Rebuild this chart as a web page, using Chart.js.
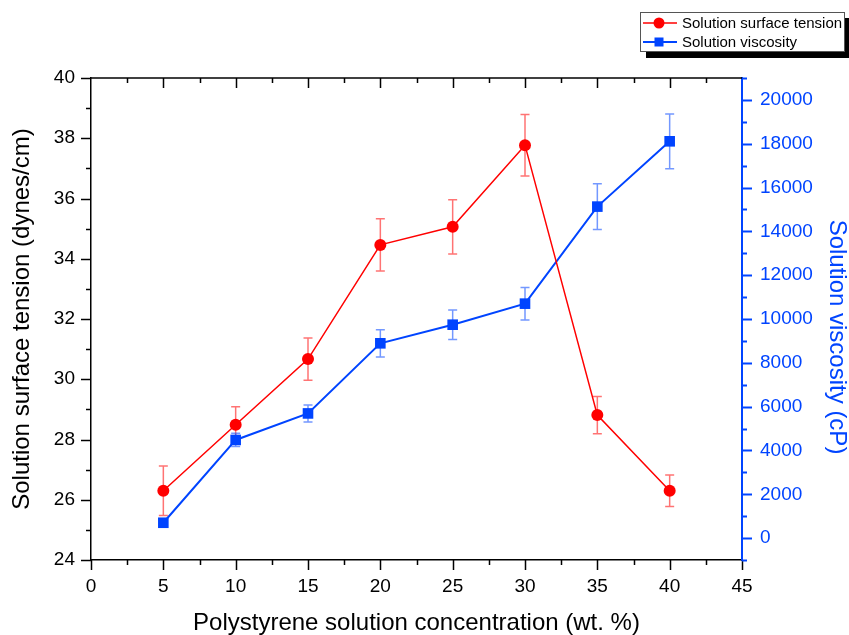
<!DOCTYPE html>
<html><head><meta charset="utf-8">
<script src="https://cdn.jsdelivr.net/npm/chart.js@4"></script>
<style>html,body{margin:0;padding:0;background:#fff;overflow:hidden}</style>
</head><body>
<canvas id="c" width="849" height="635" style="display:block;width:849px;height:635px"></canvas>
<script>
// ---- data ----
const concentration = [5, 10, 15, 20, 25, 30, 35, 40];
const surfaceTension = [26.30, 28.49, 30.67, 34.46, 35.06, 37.77, 28.81, 26.30];
const surfaceTensionErr = [0.82, 0.60, 0.70, 0.87, 0.90, 1.02, 0.62, 0.52];
const viscosity = [700, 4480, 5690, 8890, 9740, 10700, 15130, 18110];
const viscosityErr = [100, 300, 390, 620, 670, 740, 1040, 1250];
const xTicks = [0, 5, 10, 15, 20, 25, 30, 35, 40, 45];
const leftTicks = [24, 26, 28, 30, 32, 34, 36, 38, 40];
const rightTicks = [0, 2000, 4000, 6000, 8000, 10000, 12000, 14000, 16000, 18000, 20000];
const seriesNames = ['Solution surface tension', 'Solution viscosity'];
const xTitle = 'Polystyrene solution concentration (wt. %)';
const leftTitle = 'Solution surface tension (dynes/cm)';
const rightTitle = 'Solution viscosity (cP)';

const RED = '#ff0000';
const BLUE = '#0044ff';
const FONT = "'Liberation Sans', Arial, sans-serif";
Chart.defaults.font.family = FONT;

const errorBars = {
  id: 'errorBars',
  beforeDatasetsDraw(chart) {
    const ctx = chart.ctx;
    const xs = chart.scales.x;
    const sets = [
      {vals: surfaceTension, errs: surfaceTensionErr, scale: chart.scales.y, color: 'rgba(255,0,0,0.55)'},
      {vals: viscosity, errs: viscosityErr, scale: chart.scales.y1, color: 'rgba(0,68,255,0.55)'}
    ];
    ctx.save();
    ctx.lineWidth = 1.5;
    sets.forEach(s => {
      ctx.strokeStyle = s.color;
      concentration.forEach((c, i) => {
        const px = xs.getPixelForValue(c);
        const t = s.scale.getPixelForValue(s.vals[i] + s.errs[i]);
        const b = s.scale.getPixelForValue(s.vals[i] - s.errs[i]);
        ctx.beginPath();
        ctx.moveTo(px, t); ctx.lineTo(px, b);
        ctx.moveTo(px - 4.5, t); ctx.lineTo(px + 4.5, t);
        ctx.moveTo(px - 4.5, b); ctx.lineTo(px + 4.5, b);
        ctx.stroke();
      });
    });
    ctx.restore();
  }
};

const frame = {
  id: 'frame',
  afterDraw(chart) {
    const ctx = chart.ctx;
    const a = chart.chartArea;
    const xs = chart.scales.x, yl = chart.scales.y, yr = chart.scales.y1;
    ctx.save();
    // top axis line
    ctx.strokeStyle = '#000';
    ctx.lineWidth = 1.5;
    ctx.beginPath();
    ctx.moveTo(a.left, a.top); ctx.lineTo(a.right, a.top);
    ctx.stroke();
    // x ticks: bottom (out) and top (in)
    for (let v = 0; v <= 45.001; v += 2.5) {
      const px = Math.round(xs.getPixelForValue(v)) + 0.5;
      const major = Math.abs(v % 5) < 1e-6;
      const L = major ? 10 : 5;
      ctx.beginPath();
      ctx.moveTo(px, a.bottom); ctx.lineTo(px, a.bottom + L);
      if (v > 0 && v < 45) { ctx.moveTo(px, a.top); ctx.lineTo(px, a.top + L); }
      ctx.stroke();
    }
    // left ticks
    for (let v = 24; v <= 40.001; v += 1) {
      const py = Math.round(yl.getPixelForValue(v)) + 0.5;
      const L = (v % 2 === 0) ? 10 : 5;
      ctx.beginPath();
      ctx.moveTo(a.left, py); ctx.lineTo(a.left - L, py);
      ctx.stroke();
    }
    // right ticks
    ctx.strokeStyle = BLUE;
    ctx.lineWidth = 2;
    for (let v = -1000; v <= 21000; v += 1000) {
      const py = Math.round(yr.getPixelForValue(v)) + 0.5;
      const L = (v % 2000 === 0) ? 10 : 5;
      ctx.beginPath();
      ctx.moveTo(a.right, py); ctx.lineTo(a.right + L, py);
      ctx.stroke();
    }
    // right title
    ctx.fillStyle = BLUE;
    ctx.font = '24px ' + FONT;
    ctx.textAlign = 'center';
    ctx.textBaseline = 'middle';
    ctx.translate(837, 337);
    ctx.rotate(Math.PI / 2);
    ctx.fillText(rightTitle, 0, 0);
    ctx.restore();

    // legend
    ctx.save();
    ctx.fillStyle = '#000';
    ctx.fillRect(646, 18, 204, 40);
    ctx.fillStyle = '#fff';
    ctx.fillRect(640, 12, 205, 40);
    ctx.strokeStyle = '#555';
    ctx.lineWidth = 1;
    ctx.strokeRect(640.5, 12.5, 204, 39);
    const rows = [
      {y: 23, color: RED, shape: 'circle', lw: 1.5},
      {y: 42, color: BLUE, shape: 'square', lw: 2}
    ];
    ctx.font = '15px ' + FONT;
    ctx.textBaseline = 'middle';
    ctx.textAlign = 'left';
    rows.forEach((r, i) => {
      ctx.strokeStyle = r.color; ctx.lineWidth = r.lw;
      ctx.beginPath(); ctx.moveTo(643, r.y); ctx.lineTo(677, r.y); ctx.stroke();
      ctx.fillStyle = r.color;
      if (r.shape === 'circle') { ctx.beginPath(); ctx.arc(659, r.y, 5.5, 0, Math.PI * 2); ctx.fill(); }
      else { ctx.fillRect(654.5, r.y - 4.5, 9, 9); }
      ctx.fillStyle = '#000';
      ctx.fillText(seriesNames[i], 682, r.y + 1);
    });
    ctx.restore();
  }
};

new Chart(document.getElementById('c'), {
  type: 'line',
  data: {
    datasets: [
      {
        label: seriesNames[0],
        data: concentration.map((c, i) => ({x: c, y: surfaceTension[i]})),
        yAxisID: 'y',
        borderColor: RED, backgroundColor: RED,
        borderWidth: 1.5, pointRadius: 6, pointHoverRadius: 6,
        pointStyle: 'circle', pointBorderWidth: 0, tension: 0
      },
      {
        label: seriesNames[1],
        data: concentration.map((c, i) => ({x: c, y: viscosity[i]})),
        yAxisID: 'y1',
        borderColor: BLUE, backgroundColor: BLUE,
        borderWidth: 2, pointRadius: 7.5, pointHoverRadius: 7.5,
        pointStyle: 'rect', pointBorderWidth: 0, tension: 0
      }
    ]
  },
  options: {
    responsive: false,
    animation: false,
    layout: {padding: {top: 78, left: 0, right: 0, bottom: 0}},
    plugins: {legend: {display: false}, tooltip: {enabled: false}},
    scales: {
      x: {
        type: 'linear', position: 'bottom', min: 0, max: 45,
        afterBuildTicks: s => { s.ticks = xTicks.map(v => ({value: v})); },
        afterFit: s => { s.height = 75; },
        grid: {display: false},
        border: {display: true, color: '#000', width: 1.5},
        ticks: {color: '#000', font: {size: 19}, padding: 7, maxRotation: 0, autoSkip: false},
        title: {display: true, text: xTitle, color: '#000', font: {size: 24, lineHeight: 1}, padding: {top: 0, bottom: 0}}
      },
      y: {
        type: 'linear', position: 'left', min: 24, max: 40,
        afterBuildTicks: s => { s.ticks = leftTicks.map(v => ({value: v})); },
        afterFit: s => { s.width = 91; },
        grid: {display: false},
        border: {display: true, color: '#000', width: 1.5},
        ticks: {color: '#000', font: {size: 19}, padding: 8, autoSkip: false},
        title: {display: true, text: leftTitle, color: '#000', font: {size: 24, lineHeight: 1}, padding: {top: 10, bottom: 0}}
      },
      y1: {
        type: 'linear', position: 'right', min: -1000, max: 21000,
        afterBuildTicks: s => { s.ticks = rightTicks.map(v => ({value: v})); },
        afterFit: s => { s.width = 107; },
        grid: {display: false},
        border: {display: true, color: BLUE, width: 2},
        ticks: {color: BLUE, font: {size: 19}, padding: 10, autoSkip: false, callback: v => String(v)}
      }
    }
  },
  plugins: [errorBars, frame]
});
</script>
</body></html>
